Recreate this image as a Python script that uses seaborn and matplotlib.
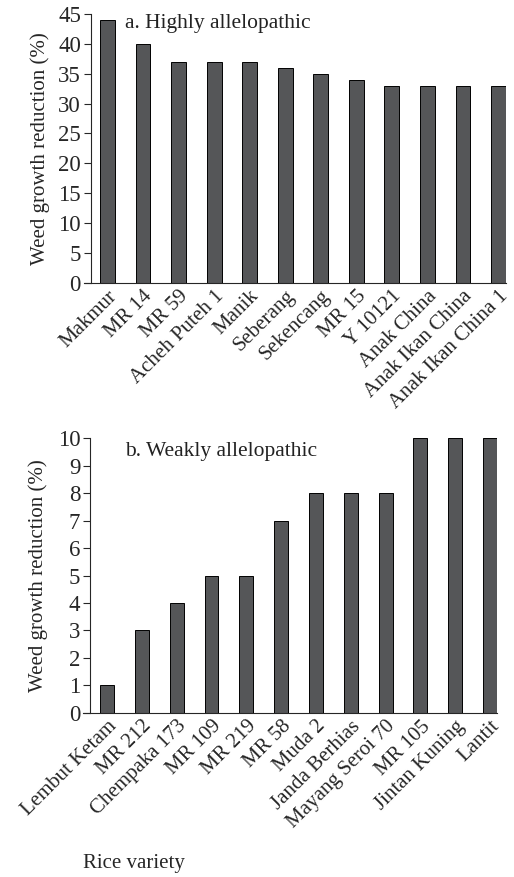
import matplotlib
matplotlib.use("Agg")
import matplotlib.pyplot as plt
import seaborn as sns
import pandas as pd

# panel a: highly allelopathic
high_names = ['Makmur', 'MR 14', 'MR 59', 'Acheh Puteh 1', 'Manik', 'Seberang',
              'Sekencang', 'MR 15', 'Y 10121', 'Anak China', 'Anak Ikan China',
              'Anak Ikan China 1']
high_vals = [44, 40, 37, 37, 37, 36, 35, 34, 33, 33, 33, 33]

# panel b: weakly allelopathic
weak_names = ['Lembut Ketam', 'MR 212', 'Chempaka 173', 'MR 109', 'MR 219', 'MR 58',
              'Muda 2', 'Janda Berhias', 'Mayang Seroi 70', 'MR 105', 'Jintan Kuning',
              'Lantit']
weak_vals = [1, 3, 4, 5, 5, 7, 8, 8, 8, 10, 10, 10]

sns.set_style('ticks')
plt.rcParams['font.family'] = ['Liberation Serif', 'DejaVu Serif']

W, H = 514, 877
fig = plt.figure(figsize=(W / 100, H / 100), dpi=100)
# axes boxes in pixels: left, right, top, bottom
ax1 = fig.add_axes([90.7 / W, 1 - 282.7 / H, (506 - 90.7) / W, (282.7 - 14) / H])
ax2 = fig.add_axes([90 / W, 1 - 712.7 / H, (497 - 90) / W, (712.7 - 438.3) / H])

BAR = '#555658'


def panel(ax, names, vals, title, ymax, step, xlim, width, tx, ty):
    df = pd.DataFrame({'variety': names, 'value': vals})
    sns.barplot(data=df, x='variety', y='value', order=names, color=BAR,
                edgecolor='black', linewidth=0.7, width=width, saturation=1, ax=ax)
    ax.set_ylim(0, ymax)
    ax.set_yticks(range(0, ymax + 1, step))
    ax.set_xlim(*xlim)
    sns.despine(ax=ax)
    # x axis line runs out past the y spine by one tick length
    slot_px = ax.get_window_extent().width / (xlim[1] - xlim[0])
    ax.spines['bottom'].set_bounds(xlim[0] - 7 / slot_px, xlim[1])
    ax.tick_params(axis='x', length=0, pad=3, labelsize=15)
    ax.tick_params(axis='y', length=5, width=0.8, pad=2, labelsize=16.5)
    for lab in ax.get_xticklabels():
        lab.set_rotation(45)
        lab.set_ha('right')
        lab.set_rotation_mode('anchor')
    ax.set_xlabel('')
    ax.set_ylabel('Weed growth reduction (%)', fontsize=15)
    ax.text(tx, ty, title, transform=ax.transAxes, fontsize=15.5,
            va='top', ha='left', color='#222222')
    for s in ['left', 'bottom']:
        ax.spines[s].set_linewidth(0.8)


panel(ax1, high_names, high_vals, 'a. Highly allelopathic', 45, 5,
      (-0.47, 11.21), 0.42, 0.083, 1.0)
panel(ax2, weak_names, weak_vals, 'b. Weakly allelopathic', 10, 1,
      (-0.49, 11.2), 0.40, 0.086, 0.985)
ax1.yaxis.set_label_coords(-0.098, 0.5)
ax2.yaxis.set_label_coords(-0.103, 0.5)

fig.text(83 / W, 1 - 868 / H, 'Rice variety', fontsize=15, ha='left', va='baseline')

fig.savefig('out.png', dpi=100)
